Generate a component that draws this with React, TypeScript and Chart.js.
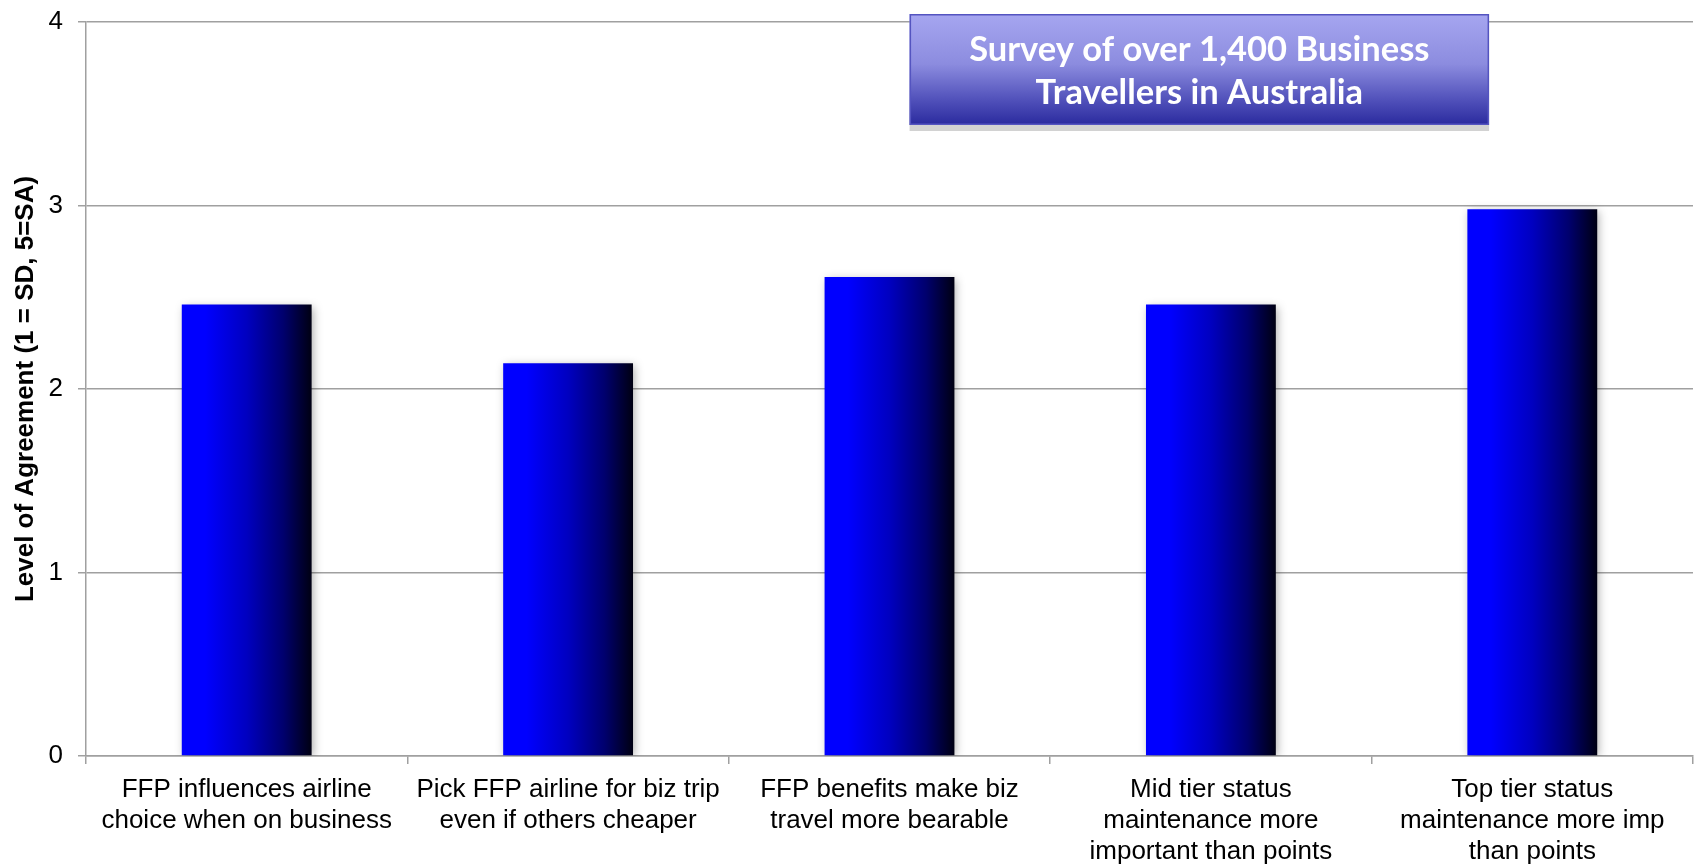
import React, { useEffect, useRef } from "react";
import { Chart, registerables } from "chart.js";

Chart.register(...registerables);

// Survey statements (x categories), split into the lines they wrap onto
const categories: string[][] = [
  ["FFP influences airline", "choice when on business"],
  ["Pick FFP airline for biz trip", "even if others cheaper"],
  ["FFP benefits make biz", "travel more bearable"],
  ["Mid tier status", "maintenance more", "important than points"],
  ["Top tier status", "maintenance more imp", "than points"],
];

// Mean level of agreement per statement
const agreement: number[] = [2.46, 2.14, 2.61, 2.46, 2.98];

const yTicks: number[] = [0, 1, 2, 3, 4];
const yTitle = "Level of Agreement (1 = SD, 5=SA)";
const boxLines: string[] = ["Survey of over 1,400 Business", "Travellers in Australia"];

const FONT = "'Liberation Sans', Arial, sans-serif";
const BAR_PCT = 0.404;

// Horizontal blue-to-black fill across each bar
function barFill(ctx: any) {
  const chart = ctx.chart;
  const xScale = chart.scales?.x;
  const area = chart.chartArea;
  if (!xScale || !area || ctx.dataIndex === undefined) return "#0000ff";
  const cx = xScale.getPixelForValue(ctx.dataIndex);
  const w = (area.width / categories.length) * BAR_PCT;
  const g = chart.ctx.createLinearGradient(cx - w / 2, 0, cx + w / 2, 0);
  g.addColorStop(0, "#0000ff");
  g.addColorStop(0.18, "#0000ff");
  g.addColorStop(0.5, "#0000c0");
  g.addColorStop(0.78, "#00006e");
  g.addColorStop(1, "#000012");
  return g;
}

// Soft drop shadow behind the bars
const barShadow = {
  id: "barShadow",
  beforeDatasetsDraw(chart: any) {
    const c = chart.ctx;
    c.save();
    c.shadowColor = "rgba(0,0,0,0.32)";
    c.shadowBlur = 9;
    c.shadowOffsetX = 2;
    c.shadowOffsetY = 2;
  },
  afterDatasetsDraw(chart: any) {
    chart.ctx.restore();
  },
};

// Gradient caption box in the upper right of the plot
const captionBox = {
  id: "captionBox",
  afterDraw(chart: any) {
    const c = chart.ctx;
    const area = chart.chartArea;
    const left = area.left + area.width * 0.5125;
    const right = area.left + area.width * 0.8731;
    const top = 14;
    const bottom = 125;
    const w = right - left;
    const h = bottom - top;
    c.save();
    c.fillStyle = "#d2d2d2";
    c.fillRect(left, bottom, w, 6);
    const g = c.createLinearGradient(0, top, 0, bottom);
    g.addColorStop(0, "#a6a6f0");
    g.addColorStop(0.45, "#8c8cdf");
    g.addColorStop(0.75, "#5555bd");
    g.addColorStop(1, "#2a2a9e");
    c.fillStyle = g;
    c.fillRect(left, top, w, h);
    c.strokeStyle = "#5454c0";
    c.lineWidth = 1.5;
    c.strokeRect(left + 0.75, top + 0.75, w - 1.5, h - 1.5);

    c.font = "bold 100px Lato, 'Open Sans', sans-serif";
    const size = (100 * 460) / c.measureText(boxLines[0]).width;
    c.font = `bold ${size.toFixed(1)}px Lato, 'Open Sans', sans-serif`;
    c.fillStyle = "#ffffff";
    c.textAlign = "center";
    c.textBaseline = "alphabetic";
    const cx = (left + right) / 2;
    c.fillText(boxLines[0], cx, 61);
    c.fillText(boxLines[1], cx, 104);
    c.restore();
  },
};

export default function App() {
  const canvasRef = useRef<HTMLCanvasElement | null>(null);

  useEffect(() => {
    if (!canvasRef.current) return;
    const chart = new Chart(canvasRef.current, {
      type: "bar",
      data: {
        labels: categories,
        datasets: [
          {
            data: agreement,
            backgroundColor: barFill,
            borderWidth: 0,
            categoryPercentage: 1,
            barPercentage: BAR_PCT,
          },
        ],
      },
      options: {
        animation: false,
        responsive: true,
        maintainAspectRatio: false,
        layout: { padding: { top: 0, right: 5, left: 4, bottom: 0 } },
        plugins: {
          legend: { display: false },
          tooltip: { enabled: false },
        },
        scales: {
          x: {
            offset: true,
            grid: {
              offset: true,
              drawOnChartArea: false,
              drawTicks: true,
              tickLength: 8,
              color: "#a0a0a0",
              lineWidth: 1.5,
            },
            border: { color: "#a0a0a0", width: 1.5 },
            ticks: {
              color: "#000000",
              font: { family: FONT, size: 26 },
              padding: 10,
              maxRotation: 0,
              minRotation: 0,
              autoSkip: false,
            },
            afterFit: (scale: any) => {
              scale.height = 108;
            },
          },
          y: {
            min: 0,
            max: 4,
            afterBuildTicks: (scale: any) => {
              scale.ticks = yTicks.map((v) => ({ value: v }));
            },
            grid: {
              color: "#a0a0a0",
              lineWidth: 1.5,
              drawTicks: true,
              tickLength: 8,
            },
            border: { color: "#a0a0a0", width: 1.5 },
            ticks: {
              color: "#000000",
              font: { family: FONT, size: 26 },
              padding: 15,
            },
            title: {
              display: true,
              text: yTitle,
              color: "#000000",
              font: { family: FONT, size: 26, weight: "bold" },
              padding: { top: 6, bottom: 4 },
            },
            afterFit: (scale: any) => {
              scale.width = 82;
              scale.paddingTop = 22;
              scale.paddingBottom = 16;
            },
          },
        },
      },
      plugins: [barShadow, captionBox],
    });
    return () => chart.destroy();
  }, []);

  return (
    <div style={{ position: "fixed", left: 0, top: 0, width: "1698px", height: "864px", background: "#ffffff" }}>
      <canvas ref={canvasRef} />
    </div>
  );
}
